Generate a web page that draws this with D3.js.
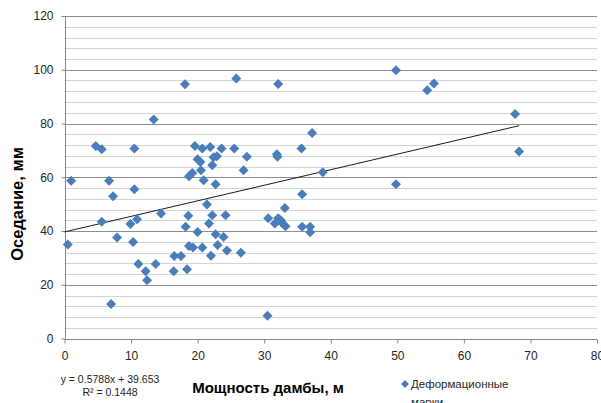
<!DOCTYPE html>
<html>
<head>
<meta charset="utf-8">
<script src="https://cdn.jsdelivr.net/npm/d3@7"></script>
<style>
  body { margin: 0; background: #fff; }
  svg { font-family: "Liberation Sans", Arial, sans-serif; }
</style>
</head>
<body>
<svg width="601" height="403"></svg>
<script>
// мощность дамбы (м) / оседание (мм)
var thickness = [0.5, 1, 4.7, 5.6, 5.6, 6.7, 7.3, 7, 7.9, 10.5, 10.5, 9.9, 10.3, 10.9, 11.1, 12.2, 12.4,
  13.4, 13.7, 14.5, 16.4, 16.5, 17.5, 18.1, 18.2, 18.4, 18.6, 18.7, 19.3, 18.7, 19.2, 19.6, 20, 20.4,
  20.7, 20.5, 20.9, 20, 20.7, 21.4, 21.9, 22.2, 22.4, 22.9, 22.7, 22.2, 21.7, 22.7, 23, 22, 23.6, 23.9,
  24.2, 24.4, 25.5, 25.8, 26.5, 26.9, 27.4, 30.5, 30.6, 31.6, 31.9, 32, 32.1, 32.1, 32.5, 32.7, 33.2,
  33.1, 35.6, 35.7, 35.7, 36.9, 36.9, 37.2, 38.8, 49.8, 49.8, 54.5, 55.5, 67.7, 68.3];
var settlement = [35, 58.7, 71.6, 70.4, 43.4, 58.7, 52.9, 12.8, 37.6, 70.7, 55.5, 42.6, 35.9, 44.4, 27.7, 25, 21.7,
  81.5, 27.7, 46.5, 25, 30.7, 30.7, 94.6, 41.6, 25.8, 45.7, 34.4, 33.9, 60.4, 61.6, 71.6, 66.7, 65.7,
  70.7, 62.6, 58.9, 39.6, 33.9, 49.9, 71.3, 64.5, 67.4, 67.8, 57.4, 45.9, 42.8, 38.8, 34.8, 30.8, 70.7, 37.8,
  45.9, 32.7, 70.7, 96.7, 31.9, 62.6, 67.6, 8.5, 44.7, 42.8, 68.6, 67.6, 94.7, 44.7, 44, 43, 41.8,
  48.6, 70.7, 53.7, 41.6, 41.6, 39.5, 76.5, 61.9, 99.8, 57.4, 92.4, 94.9, 83.5, 69.6];

var xTicks = [0, 10, 20, 30, 40, 50, 60, 70, 80];
var yTicks = [0, 20, 40, 60, 80, 100, 120];
var yMinor = d3.range(0, 121, 4);

var slope = 0.5788, intercept = 39.653;
var eqLabel = "y = 0.5788x + 39.653";
var r2Label = "R² = 0.1448";
var seriesName = ["Деформационные", "марки"];

var points = thickness.map(function (d, i) { return { x: d, y: settlement[i] }; });

var svg = d3.select("svg");
var plotL = 64.5, plotR = 597, plotT = 16, plotB = 338.5;

var x = d3.scaleLinear().domain([0, 80]).range([plotL, plotR]);
var y = d3.scaleLinear().domain([0, 120]).range([plotB, plotT]);

function py(d) { return Math.round(y(d)) + 0.5; }

// minor gridlines
svg.append("g").selectAll("line")
  .data(yMinor.filter(function (d) { return d % 20 != 0; }))
  .enter().append("line")
  .attr("x1", plotL).attr("x2", plotR)
  .attr("y1", py).attr("y2", py)
  .attr("stroke", "#d4d4d4").attr("stroke-width", 1);

// major gridlines
svg.append("g").selectAll("line")
  .data(yTicks.filter(function (d) { return d > 0; }))
  .enter().append("line")
  .attr("x1", plotL).attr("x2", plotR)
  .attr("y1", py).attr("y2", py)
  .attr("stroke", "#8e8e8e").attr("stroke-width", 1);

var yAxis = svg.append("g")
  .attr("transform", "translate(" + (Math.round(plotL) + 0.5) + ",0)")
  .call(d3.axisLeft(y).tickValues(yTicks).tickSize(4).tickPadding(8));

var xAxis = svg.append("g")
  .attr("transform", "translate(0," + (Math.round(plotB) + 0.5) + ")")
  .call(d3.axisBottom(x).tickValues(xTicks).tickSize(4).tickPadding(8));

xAxis.select(".domain").attr("stroke", "#868686").attr("d", "M" + plotL + ",0H" + plotR);
yAxis.select(".domain").attr("stroke", "#868686").attr("d", "M0," + plotT + "V" + plotB);
[xAxis, yAxis].forEach(function (a) {
  a.selectAll(".tick line").attr("stroke", "#868686");
  a.selectAll(".tick text").attr("fill", "#262626").style("font-size", "12px");
});

// trendline
svg.append("line")
  .attr("x1", x(0)).attr("y1", y(intercept))
  .attr("x2", x(d3.max(thickness)))
  .attr("y2", y(intercept + slope * d3.max(thickness)))
  .attr("stroke", "#1a1a1a").attr("stroke-width", 1);

svg.append("g").selectAll("path")
  .data(points)
  .enter().append("path")
  .attr("d", "M0,-5L5,0L0,5L-5,0Z")
  .attr("transform", function (d) { return "translate(" + x(d.x) + "," + y(d.y) + ")"; })
  .attr("fill", "#4a7ebb");

// axis titles
svg.append("text")
  .attr("transform", "translate(23,204) rotate(-90)")
  .attr("text-anchor", "middle")
  .style("font-size", "16.5px").style("font-weight", "bold")
  .text("Оседание, мм");

svg.append("text")
  .attr("x", 268).attr("y", 393)
  .attr("text-anchor", "middle")
  .style("font-size", "15px").style("font-weight", "bold")
  .text("Мощность дамбы, м");

// trendline label
svg.append("text")
  .attr("x", 110).attr("y", 383)
  .attr("text-anchor", "middle")
  .style("font-size", "10.5px").attr("fill", "#262626")
  .text(eqLabel);
svg.append("text")
  .attr("x", 110).attr("y", 396)
  .attr("text-anchor", "middle")
  .style("font-size", "10.5px").attr("fill", "#262626")
  .text(r2Label);

// legend
svg.append("path")
  .attr("d", "M0,-4L4,0L0,4L-4,0Z")
  .attr("transform", "translate(405,384)")
  .attr("fill", "#4a7ebb");
svg.append("text")
  .attr("x", 411).attr("y", 388)
  .style("font-size", "11.5px").attr("fill", "#262626")
  .text(seriesName[0]);
svg.append("text")
  .attr("x", 411).attr("y", 406)
  .style("font-size", "11.5px").attr("fill", "#262626")
  .text(seriesName[1]);
</script>
</body>
</html>
